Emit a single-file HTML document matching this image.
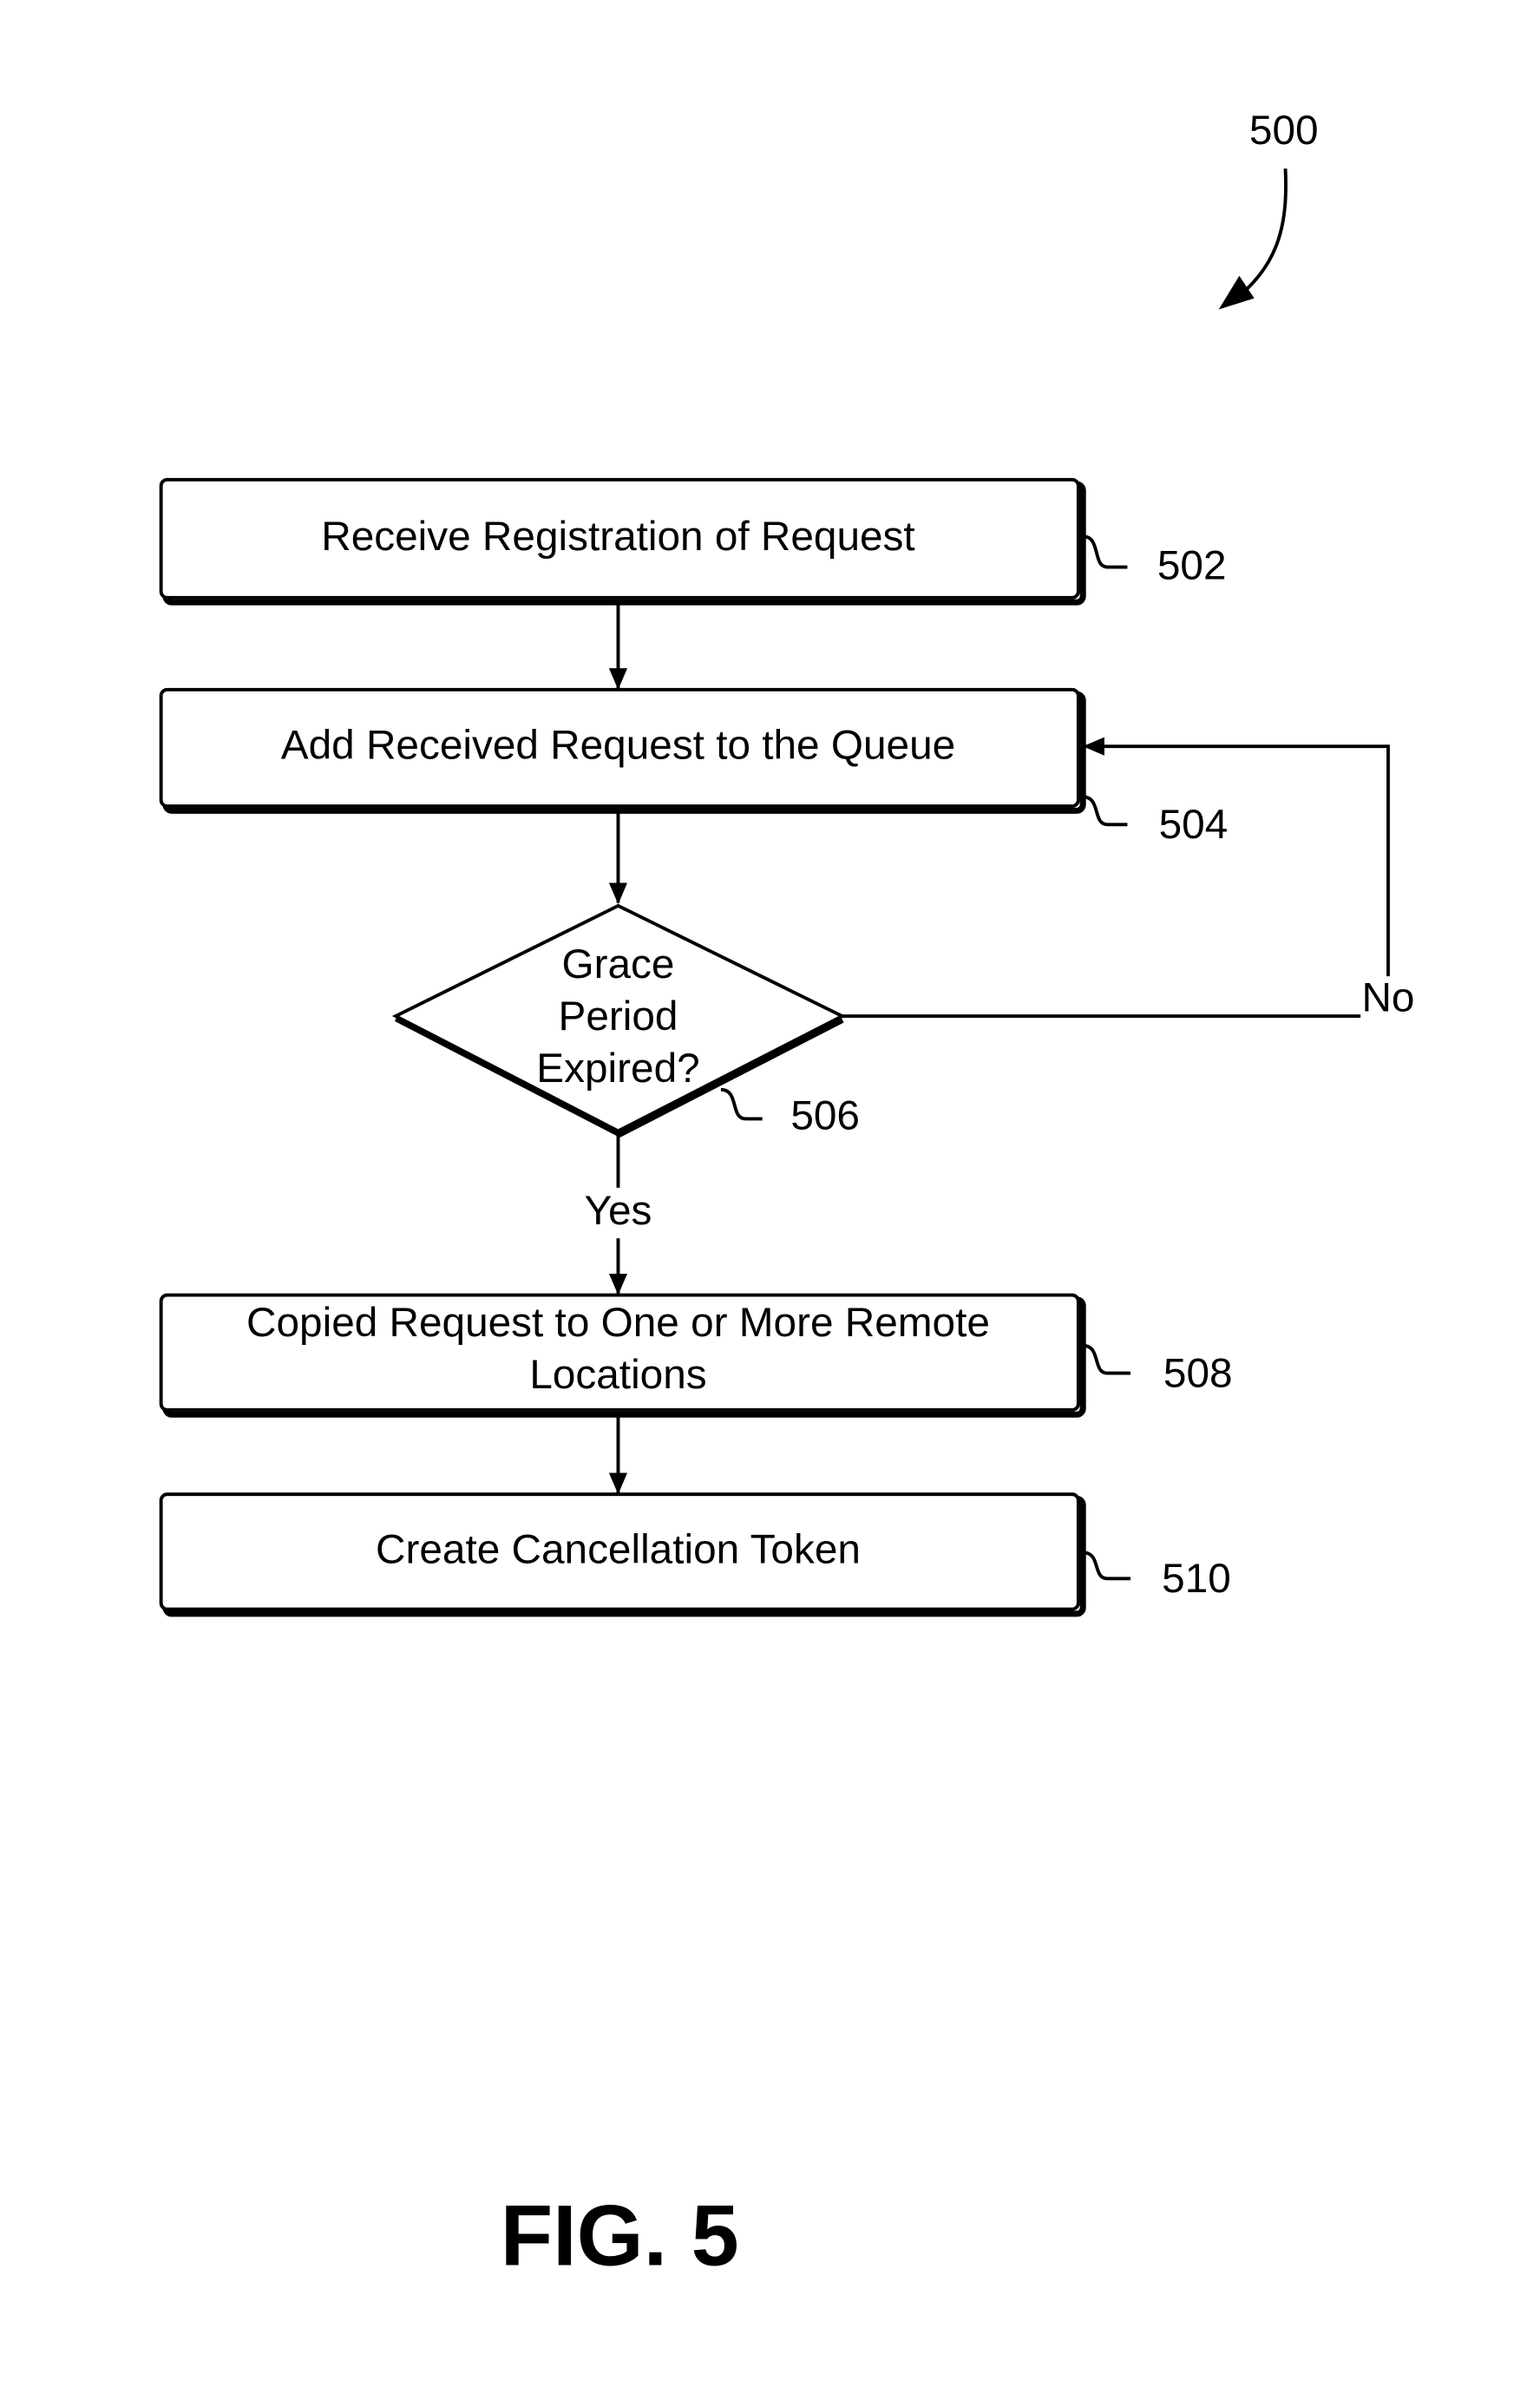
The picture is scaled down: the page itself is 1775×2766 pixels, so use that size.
<!DOCTYPE html>
<html><head><meta charset="utf-8"><style>
html,body{margin:0;padding:0;background:#fff}
svg{display:block}
text{font-family:"Liberation Sans",Arial,sans-serif;fill:#000}
</style></head><body>
<svg width="1775" height="2766" viewBox="0 0 1004 1566" preserveAspectRatio="none" xmlns="http://www.w3.org/2000/svg">
<defs>
<marker id="ah" markerWidth="14" markerHeight="14" refX="13" refY="7" orient="auto" markerUnits="userSpaceOnUse" viewBox="0 0 14 14">
<path d="M0,1 L14,7 L0,13 z" fill="#000"/>
</marker>
</defs>
<g stroke="#000" fill="none" stroke-width="2.2">
<path d="M838,110 C840,150 832,175 802,198" />
<path d="M797,200 L808,182 L816,194 z" fill="#000"/>
<g>
<rect x="108" y="316" width="598" height="77" rx="4" stroke-width="4"/>
<rect x="105" y="313" width="598" height="77" rx="4" fill="#fff"/>
<rect x="108" y="453" width="598" height="76" rx="4" stroke-width="4"/>
<rect x="105" y="450" width="598" height="76" rx="4" fill="#fff"/>
<rect x="108" y="848" width="598" height="75" rx="4" stroke-width="4"/>
<rect x="105" y="845" width="598" height="75" rx="4" fill="#fff"/>
<rect x="108" y="978" width="598" height="75" rx="4" stroke-width="4"/>
<rect x="105" y="975" width="598" height="75" rx="4" fill="#fff"/>
</g>
<path d="M403,591 L549,663 L403,738 L258,663 z" fill="#fff"/>
<path d="M549,665 L403,740" stroke-width="5"/>
<path d="M258,665 L403,740" stroke-width="3"/>
<line x1="403" y1="392" x2="403" y2="449" marker-end="url(#ah)"/>
<line x1="403" y1="528" x2="403" y2="589" marker-end="url(#ah)"/>
<line x1="403" y1="740" x2="403" y2="775"/>
<line x1="403" y1="808" x2="403" y2="844" marker-end="url(#ah)"/>
<line x1="403" y1="922" x2="403" y2="974" marker-end="url(#ah)"/>
<line x1="549" y1="663" x2="887" y2="663"/>
<polyline points="905,637 905,487 707,487" marker-end="url(#ah)"/>
<path d="M706,350 C718,350 712,370 722,370 L735,370"/>
<path d="M706,520 C718,520 712,538 722,538 L735,538"/>
<path d="M470,711 C482,711 476,730 486,730 L497,730"/>
<path d="M706,878 C718,878 712,896 722,896 L737,896"/>
<path d="M706,1013 C718,1013 712,1030 722,1030 L737,1030"/>
</g>
<g font-size="27" text-anchor="middle">
<text x="837" y="94">500</text>
<text x="403" y="359">Receive Registration of Request</text>
<text x="403" y="495">Add Received Request to the Queue</text>
<text x="403" y="638">Grace</text>
<text x="403" y="672">Period</text>
<text x="403" y="706">Expired?</text>
<text x="403" y="799">Yes</text>
<text x="905" y="660">No</text>
<text x="403" y="872">Copied Request to One or More Remote</text>
<text x="403" y="906">Locations</text>
<text x="403" y="1020">Create Cancellation Token</text>
<text x="777" y="378">502</text>
<text x="778" y="547">504</text>
<text x="538" y="737">506</text>
<text x="781" y="905">508</text>
<text x="780" y="1039">510</text>
</g>
<text x="404" y="1478" font-size="56" font-weight="bold" text-anchor="middle">FIG. 5</text>
</svg>
</body></html>
